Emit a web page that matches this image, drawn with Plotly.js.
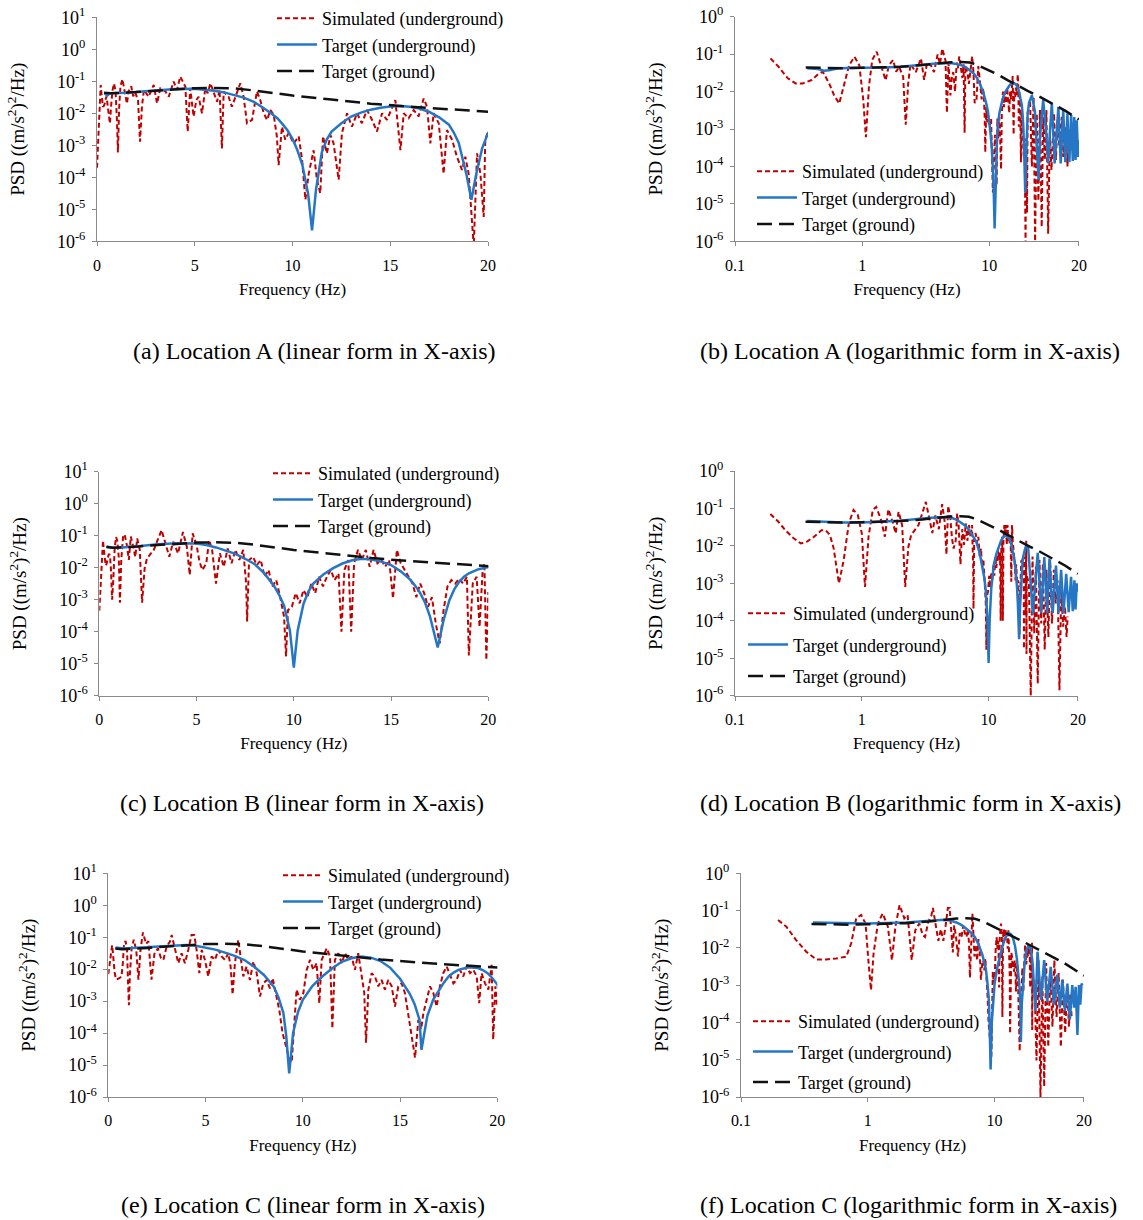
<!DOCTYPE html>
<html><head><meta charset="utf-8">
<script src="https://cdn.plot.ly/plotly-3.0.1.min.js"></script>
<style>html,body{margin:0;padding:0;background:#fff}#chart{width:1143px;height:1220px}</style>
</head><body><div id="chart"></div>
<script>
// ---------------- DATA ----------------
// Target (ground) PSD, shared by all locations
const gndF = [0.36,0.5,0.7,1,1.5,2,3,4,5,6,7,8,9,10,12,14,16,18,20,25,30,35,40,45,50.6];
const gndV = [0.044,0.043,0.042,0.043,0.044,0.046,0.051,0.057,0.061,0.062,0.060,0.052,0.043,0.036,0.027,0.020,0.016,0.013,0.0105,0.0072,0.0052,0.0040,0.0030,0.0023,0.0018];

// Location A
const simA_f = [0,0.19,0.22,0.26,0.30,0.34,0.40,0.45,0.49,0.55,0.60,0.66,0.72,0.79,0.87,0.95,1.02,1.07,1.13,1.2,1.3,1.42,1.53,1.62,1.75,1.85,1.95,2.1,2.2,2.3,2.4,2.64,2.9,3.07,3.24,3.5,3.67,3.92,4.09,4.26,4.52,4.64,4.77,4.94,5.08,5.2,5.37,5.54,5.66,5.8,5.97,6.14,6.27,6.39,6.48,6.73,6.9,7.08,7.33,7.5,7.67,7.93,8.18,8.35,8.53,8.7,8.87,9.04,9.2,9.29,9.46,9.63,9.8,10.06,10.32,10.49,10.66,10.83,11.08,11.25,11.42,11.56,11.76,11.94,12.1,12.36,12.53,12.79,13.04,13.3,13.55,13.81,14.07,14.32,14.58,14.83,15.09,15.26,15.52,15.69,15.94,16.2,16.45,16.71,16.88,17.05,17.22,17.48,17.73,17.9,18.16,18.41,18.67,18.84,19.01,19.27,19.44,19.61,19.78,19.86,20.0,20.9,21.6,22.3,22.9,23.6,24.3,25.0,25.8,26.5,27.3,28.1,29.0,29.9,30.8,32.2,33.4,34.4,35.5,37.1,38.1,39.8,41.1,42.3];
const simA_v = [2e-4,0.077,0.046,0.0226,0.0165,0.0165,0.0203,0.029,0.034,0.0165,0.0081,0.0048,0.0165,0.051,0.085,0.05,0.006,0.0006,0.0135,0.07,0.116,0.046,0.02,0.05,0.07,0.034,0.046,0.025,0.0013,0.0165,0.054,0.033,0.077,0.0205,0.06,0.048,0.033,0.098,0.054,0.14,0.068,0.0027,0.06,0.0079,0.026,0.033,0.01,0.06,0.042,0.087,0.042,0.023,0.054,0.0008,0.048,0.033,0.016,0.033,0.087,0.033,0.0049,0.0062,0.048,0.026,0.01,0.0062,0.0127,0.0089,0.0019,0.00024,0.0038,0.0015,0.0024,0.00115,0.0019,0.00035,0.00002,0.00013,0.0007,0.000084,0.000032,0.0019,0.00056,0.0021,0.00115,0.000084,0.0024,0.01,0.0038,0.01,0.0049,0.0127,0.0062,0.0027,0.01,0.0062,0.0144,0.026,0.0007,0.01,0.007,0.0127,0.008,0.029,0.016,0.00115,0.01,0.0049,0.00013,0.003,0.0015,0.00044,0.00017,0.00044,0.00013,7e-7,0.00056,0.00013,0.0000058,0.0015,0.0027,0.0059,0.0001,0.0073,0.000001,0.0026,0.000012,0.0032,0.0000024,0.0021,0.00015,0.0032,0.0000016,0.00076,0.00008,0.0026,0.00015,0.0017,0.00034,0.0021,0.00018,0.0011,0.0001,0.00076];
const tgtA_f = [0.37,0.45,0.5,0.55,0.65,0.8,1,1.5,2,3,4,5,5.5,6,6.5,7,7.5,8,8.5,9,9.25,9.5,9.75,10,10.25,10.5,10.8,11.0,11.2,11.5,11.75,12,12.5,13,13.5,14,14.5,15,15.5,16,16.5,17,17.5,18,18.25,18.5,18.9,19.15,19.4,19.7,20,20.5,21.6,22.8,24.0,24.4,25.0,26.5,28.0,29.0,30.0,31.0,32.6,34.9,36.4,38.1,39.6,41.1,42.6,44.0,45.3,46.5,47.6,48.7,49.8,50.6];
const tgtA_v = [0.042,0.040,0.036,0.037,0.042,0.043,0.043,0.044,0.046,0.052,0.057,0.058,0.055,0.051,0.045,0.038,0.031,0.023,0.015,0.009,0.0068,0.0045,0.0029,0.0016,0.0007,0.00025,0.00003,0.0000022,0.00004,0.0006,0.0015,0.0027,0.0049,0.0079,0.0105,0.013,0.015,0.0163,0.017,0.016,0.014,0.011,0.0075,0.0044,0.0025,0.0012,0.00012,0.00002,0.00013,0.0008,0.0024,0.005,0.008,0.003,0.0002,0.000043,0.0006,0.006,0.0008,0.00012,0.0009,0.0049,0.00012,0.0039,0.00012,0.0032,0.00013,0.0026,0.00013,0.0024,0.00014,0.0021,0.00015,0.0017,0.00018,0.0005];

// Location B
const simB_f = [0,0.19,0.22,0.25,0.29,0.33,0.37,0.42,0.48,0.52,0.56,0.6,0.66,0.72,0.79,0.86,0.93,1.0,1.06,1.13,1.22,1.3,1.42,1.52,1.62,1.75,1.85,1.95,2.08,2.2,2.33,2.45,2.8,3.2,3.45,3.6,3.8,4.05,4.3,4.5,4.65,4.8,5.0,5.15,5.3,5.5,5.65,5.8,6.0,6.2,6.4,6.6,6.8,7.0,7.2,7.4,7.55,7.6,7.7,7.9,8.1,8.3,8.5,8.7,8.9,9.1,9.3,9.5,9.6,9.7,9.9,10.1,10.3,10.5,10.7,10.9,11.1,11.3,11.5,11.7,11.9,12.1,12.3,12.45,12.6,12.8,12.95,13.1,13.3,13.5,13.7,13.9,14.1,14.3,14.5,14.7,14.9,15.1,15.3,15.5,15.7,15.9,16.1,16.3,16.5,16.7,16.9,17.1,17.3,17.5,17.7,17.9,18.1,18.3,18.5,18.7,18.9,19.0,19.2,19.4,19.55,19.7,19.8,19.9,20.0,20.8,21.5,22.2,22.9,23.6,24.4,25.2,26.0,26.8,27.7,28.6,29.6,30.6,31.6,32.7,33.8,35.0,36.2,37.4,38.7,40.0,41.2,42.0];
const simB_v = [0.00045,0.071,0.044,0.026,0.016,0.0117,0.013,0.0176,0.026,0.026,0.0195,0.0086,0.001,0.0042,0.04,0.091,0.067,0.0216,0.0008,0.0176,0.091,0.11,0.049,0.0176,0.095,0.044,0.0216,0.082,0.036,0.0008,0.0095,0.0195,0.036,0.15,0.045,0.022,0.065,0.028,0.13,0.045,0.0059,0.118,0.051,0.0154,0.0085,0.0137,0.073,0.036,0.0032,0.028,0.0107,0.040,0.0137,0.036,0.0174,0.036,0.0032,0.00021,0.0174,0.022,0.012,0.0174,0.0052,0.0085,0.0026,0.0041,0.0012,0.00029,0.000017,0.00047,0.0006,0.0016,0.00077,0.002,0.0012,0.0032,0.0016,0.0052,0.0026,0.0052,0.0085,0.0041,0.0066,0.0001,0.0085,0.0174,0.0001,0.0137,0.036,0.0174,0.036,0.0107,0.036,0.0137,0.0174,0.0107,0.0174,0.0011,0.036,0.0137,0.0085,0.0052,0.0032,0.0012,0.0032,0.0016,0.0006,0.0012,0.00018,0.000043,0.00047,0.0026,0.0041,0.0032,0.0046,0.0032,0.0052,0.000018,0.0032,0.0052,0.00014,0.0066,0.0137,0.000013,0.0016,0.001,0.000001,0.0052,0.000046,0.0028,0.0000021,0.0042,0.000085,0.0034,0.000017,0.0023,0.000037,0.0042,0.000085,0.0023,0.00029,0.0012,0.0000014,0.00066,0.00007,0.00024,0.000037,0.00013];
const tgtB_f = [0.37,0.5,0.7,1,1.5,2,3,4,5,5.5,6,6.5,7,7.5,8,8.5,9,9.25,9.5,9.8,10,10.2,10.5,10.75,11,11.5,12,12.5,13,13.5,14,14.5,15,15.5,16,16.25,16.5,16.75,17,17.4,17.7,18,18.25,18.5,18.75,19,19.5,20,20.5,22.3,24.4,26.0,27.5,29.0,30.2,32.0,34.0,35.6,37.3,39.0,40.9,42.8,44.7,46.1,47.5,48.5,49.5,50.6];
const tgtB_v = [0.046,0.044,0.042,0.042,0.044,0.047,0.054,0.058,0.057,0.051,0.043,0.035,0.027,0.019,0.0128,0.0065,0.0026,0.0014,0.00065,0.00011,0.0000075,0.00011,0.00075,0.0018,0.0032,0.006,0.0095,0.0135,0.017,0.019,0.018,0.0155,0.0121,0.0077,0.0042,0.0027,0.0016,0.0008,0.0003,0.000032,0.00023,0.00096,0.0021,0.0036,0.0052,0.0067,0.009,0.0105,0.0095,0.00015,0.0065,0.00016,0.005,0.00016,0.0046,0.00016,0.003,0.00016,0.0023,0.00016,0.0018,0.00017,0.0015,0.00018,0.0012,0.0002,0.001,0.0006];

// Location C
const simC_f = [0,0.196,0.228,0.272,0.327,0.392,0.47,0.563,0.675,0.74,0.81,0.886,0.96,1.01,1.06,1.11,1.2,1.31,1.44,1.55,1.65,1.78,1.94,2.06,2.22,2.37,2.55,2.71,2.83,3.0,3.17,3.26,3.43,3.6,3.77,3.94,4.11,4.28,4.42,4.54,4.68,4.8,4.97,5.14,5.31,5.48,5.66,5.83,6.0,6.17,6.29,6.39,6.51,6.68,6.8,6.94,7.11,7.28,7.46,7.63,7.8,7.97,8.14,8.31,8.45,8.62,8.79,8.96,9.13,9.31,9.43,9.55,9.68,9.85,10.03,10.2,10.37,10.54,10.71,10.85,10.97,11.23,11.4,11.52,11.65,11.83,12.0,12.17,12.34,12.51,12.68,12.85,13.02,13.16,13.25,13.37,13.54,13.71,13.88,14.05,14.22,14.4,14.57,14.74,14.91,15.08,15.25,15.42,15.6,15.77,15.94,16.08,16.2,16.37,16.54,16.71,16.88,17.05,17.22,17.4,17.57,17.74,17.91,18.08,18.25,18.42,18.6,18.77,18.94,19.07,19.19,19.37,19.54,19.71,19.79,19.9,20.0,20.6,21.4,22.2,23.0,23.8,24.6,25.5,26.5,27.5,28.6,29.6,30.8,32.0,33.3,34.6,36.0,37.3,38.6,39.5,40.5];
const simC_v = [0.007,0.056,0.037,0.0162,0.0079,0.0049,0.0049,0.0052,0.0058,0.0133,0.062,0.076,0.045,0.0047,0.00074,0.007,0.045,0.084,0.037,0.0047,0.037,0.141,0.062,0.076,0.0047,0.030,0.045,0.022,0.0195,0.051,0.073,0.118,0.040,0.0154,0.0316,0.0154,0.040,0.118,0.118,0.040,0.0075,0.040,0.0195,0.0059,0.0249,0.0195,0.040,0.0249,0.0195,0.0316,0.0121,0.0016,0.0154,0.083,0.0249,0.0059,0.0121,0.0046,0.0173,0.0075,0.0014,0.0036,0.0046,0.0025,0.0052,0.0018,0.00053,0.0001,0.000039,0.000015,0.000012,0.00016,0.0023,0.0011,0.0018,0.0095,0.0195,0.0095,0.0154,0.00086,0.0195,0.045,0.0249,0.00014,0.0195,0.0316,0.0154,0.0316,0.0195,0.0249,0.0095,0.0316,0.0075,0.0018,0.00005,0.0023,0.0075,0.0059,0.0029,0.0046,0.0023,0.0046,0.0029,0.00068,0.0029,0.0036,0.0018,0.00042,0.0001,0.000017,0.00026,0.00013,0.00042,0.0011,0.0029,0.0018,0.00068,0.0029,0.0075,0.0121,0.0066,0.0036,0.0046,0.0095,0.0059,0.0121,0.0075,0.0095,0.0059,0.00086,0.0075,0.0036,0.0023,0.0137,0.000063,0.0029,0.00068,0.0014,0.0000095,0.0047,0.000001,0.0017,0.0000019,0.0039,0.000022,0.0026,0.000077,0.0047,0.00014,0.0021,0.000022,0.0014,0.000052,0.0009,0.000077,0.0006,0.00014];
const tgtC_f = [0.37,0.5,0.8,1,2,3,4,4.5,5,5.5,6,6.5,7,7.5,8,8.5,8.75,9,9.15,9.3,9.5,9.75,10,10.5,11,11.5,12,12.5,13,13.5,14,14.5,15,15.25,15.5,15.75,16,16.1,16.4,16.7,17,17.25,17.5,17.75,18,18.5,19,19.25,19.5,19.75,20,20.5,21.0,21.8,23.2,24.6,26.0,27.7,29.4,31.2,32.7,34.2,35.8,37.5,39.2,41.0,42.3,43.6,45.0,46.3,47.4,48.5,49.3];
const tgtC_v = [0.048,0.047,0.044,0.045,0.048,0.053,0.057,0.054,0.048,0.041,0.033,0.026,0.0193,0.012,0.0066,0.0029,0.0013,0.00043,0.00008,0.0000055,0.0001,0.00045,0.0011,0.003,0.0059,0.0105,0.017,0.022,0.025,0.023,0.018,0.011,0.005,0.003,0.0017,0.0008,0.00026,0.00003,0.00034,0.0011,0.0022,0.0038,0.0059,0.0078,0.0095,0.0115,0.0108,0.0094,0.0075,0.0052,0.0033,0.0006,0.0002,0.0079,0.0004,0.0047,0.00035,0.0031,0.0003,0.0019,0.00025,0.0014,0.0002,0.0011,0.00012,0.001,0.00025,0.0009,0.000046,0.001,0.0003,0.0011,0.001];

// Tick labels
const linTicks = [0,5,10,15,20];
const logTickVals = [0.1,1,10,50.6];
const logTickText = ['0.1','1','10','20'];
const yExp = [-6,-5,-4,-3,-2,-1,0,1];

const names = ['Simulated (underground)','Target (underground)','Target (ground)'];
const captions = ['(a) Location A (linear form in X-axis)','(b) Location A (logarithmic form in X-axis)',
  '(c) Location B (linear form in X-axis)','(d) Location B (logarithmic form in X-axis)',
  '(e) Location C (linear form in X-axis)','(f) Location C (logarithmic form in X-axis)'];
const yTitle = 'PSD ((m/s<sup>2</sup>)<sup>2</sup>/Hz)';
const xTitle = 'Frequency (Hz)';

// ---------------- LAYOUT ----------------
const W = 1143, H = 1220;
const FONT = 'Liberation Serif';
const RED = '#C00000', BLUE = '#2577C6', BLACK = '#111111', AXC = '#8a8a8a';
const locs = {
  A: {sf: simA_f, sv: simA_v, tf: tgtA_f, tv: tgtA_v},
  B: {sf: simB_f, sv: simB_v, tf: tgtB_f, tv: tgtB_v},
  C: {sf: simC_f, sv: simC_v, tf: tgtC_f, tv: tgtC_v}
};
// box: [left, right, top, bottom] in px; leg: legend top-left px + gap; cap: caption centre px
const panels = [
  {loc:'A', log:false, box:[97,488,17.3,241.3],   leg:[272,0,0],    cap:[314,351]},
  {loc:'A', log:true,  box:[735,1079,16.7,241.3], leg:[752,153,0],  cap:[910,351]},
  {loc:'B', log:false, box:[99.3,488.3,471.7,695.7], leg:[268,455,0], cap:[302,803]},
  {loc:'B', log:true,  box:[735,1078,471,695.7],  leg:[743,595,5],  cap:[910,803]},
  {loc:'C', log:false, box:[108.3,497.3,873.3,1097], leg:[278,857,0], cap:[303,1205]},
  {loc:'C', log:true,  box:[741,1084,873.3,1097], leg:[748,1003,4], cap:[908,1205]}
];

function pairs(f, v, log) {
  const X = [], Y = [];
  for (let i = 0; i < f.length; i++) { if (!log || f[i] > 0) { X.push(f[i]); Y.push(v[i]); } }
  return [X, Y];
}

const traces = [];
const layout = {
  width: W, height: H, margin: {l:0, r:0, t:0, b:0, autoexpand:false},
  paper_bgcolor: '#fff', plot_bgcolor: 'rgba(0,0,0,0)',
  font: {family: FONT, color: '#000', size: 16},
  annotations: []
};

panels.forEach((p, i) => {
  const n = i + 1, s = n === 1 ? '' : String(n);
  const L = locs[p.loc];
  const lg = 'legend' + s;
  const sim = pairs(L.sf, L.sv, p.log), tgt = pairs(L.tf, L.tv, p.log), gnd = pairs(gndF, gndV, p.log);
  const common = {type:'scatter', mode:'lines', xaxis:'x'+s, yaxis:'y'+s, legend: lg, hoverinfo:'skip'};
  traces.push(Object.assign({}, common, {x: sim[0], y: sim[1], name: names[0], legendgroup: 's'+n,
    line: {color: RED, width: 2, dash: '5px,3px'}}));
  traces.push(Object.assign({}, common, {x: tgt[0], y: tgt[1], name: names[1], legendgroup: 't'+n,
    line: {color: BLUE, width: 2.5}}));
  traces.push(Object.assign({}, common, {x: gnd[0], y: gnd[1], name: names[2], legendgroup: 'g'+n,
    line: {color: BLACK, width: 2.5, dash: '15px,7px'}}));

  const [l, r, t, b] = p.box;
  const yTop = p.log ? 0 : 1;
  const ev = yExp.filter(e => e <= yTop);
  layout['xaxis'+s] = {
    domain: [l/W, r/W], anchor: 'y'+s,
    type: p.log ? 'log' : 'linear',
    range: p.log ? [-1, 1.705] : [0, 20],
    tickvals: p.log ? logTickVals : linTicks,
    ticktext: p.log ? logTickText : linTicks.map(String),
    showline: true, linecolor: AXC, linewidth: 1, ticks: 'outside', ticklen: 4, tickcolor: AXC,
    showgrid: false, zeroline: false, ticklabelstandoff: 5,
    tickfont: {family: FONT, size: 16, color: '#000'},
    title: {text: xTitle, font: {family: FONT, size: 17, color: '#000'}, standoff: 10}
  };
  layout['yaxis'+s] = {
    domain: [1 - b/H, 1 - t/H], anchor: 'x'+s,
    type: 'log', range: [-6, yTop],
    tickvals: ev.map(e => Math.pow(10, e)),
    ticktext: ev.map(e => '10<sup>' + e + '</sup>'),
    showline: true, linecolor: AXC, linewidth: 1, ticks: 'outside', ticklen: 4, tickcolor: AXC,
    showgrid: false, zeroline: false, ticklabelstandoff: 3,
    tickfont: {family: FONT, size: 18, color: '#000'},
    title: {text: yTitle, font: {family: FONT, size: 19, color: '#000'}, standoff: 27}
  };
  layout[lg] = {
    x: p.leg[0]/W, y: 1 - p.leg[1]/H, xanchor: 'left', yanchor: 'top',
    bgcolor: 'rgba(0,0,0,0)', borderwidth: 0, traceorder: 'grouped', tracegroupgap: p.leg[2],
    font: {family: FONT, size: 18, color: '#000'}, itemwidth: 40
  };
  layout.annotations.push({
    xref: 'paper', yref: 'paper', x: p.cap[0]/W, y: 1 - p.cap[1]/H, xanchor: 'center', yanchor: 'middle',
    showarrow: false, text: captions[i], font: {family: FONT, size: 24, color: '#000'}
  });
});

Plotly.newPlot('chart', traces, layout, {staticPlot: true, displayModeBar: false});
</script></body></html>
